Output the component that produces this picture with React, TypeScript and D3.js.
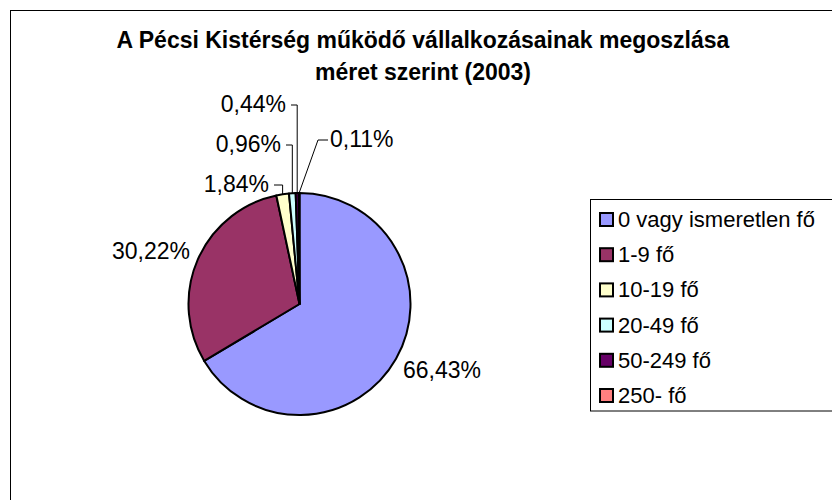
import React, { useEffect, useRef } from 'react';
import * as d3 from 'd3';

const title = ['A Pécsi Kistérség működő vállalkozásainak megoszlása', 'méret szerint (2003)'];
const categories = ['0 vagy ismeretlen fő', '1-9 fő', '10-19 fő', '20-49 fő', '50-249 fő', '250- fő'];
const shares = [66.43, 30.22, 1.84, 0.96, 0.44, 0.11];
const colors = ['#9999FF', '#993366', '#FFFFCC', '#CCFFFF', '#660066', '#FF8080'];

// where each percentage label sits (text anchor point) and whether it has a leader
const labelLayout = [
  { x: 403, y: 378, anchor: 'start', leader: false },
  { x: 112, y: 259, anchor: 'start', leader: false },
  { x: 269, y: 192, anchor: 'end', leader: true },
  { x: 281, y: 152, anchor: 'end', leader: true },
  { x: 286, y: 112, anchor: 'end', leader: true },
  { x: 330, y: 147, anchor: 'start', leader: true },
];

const W = 832;
const H = 500;
const cx = 299.5;
const cy = 304;
const R = 111;

const fmt = (v: number) => v.toFixed(2).replace('.', ',') + '%';

export default function App() {
  const ref = useRef<SVGSVGElement>(null);

  useEffect(() => {
    const svg = d3.select(ref.current);
    svg.selectAll('*').remove();
    const font = 'Arial, "Liberation Sans", sans-serif';

    svg.append('rect').attr('width', W).attr('height', H).attr('fill', '#fff');
    svg.append('rect')
      .attr('x', 10.5).attr('y', 10.5)
      .attr('width', W).attr('height', H)
      .attr('fill', 'none').attr('stroke', '#000').attr('stroke-width', 1);

    svg.append('g').selectAll('text')
      .data(title)
      .enter()
      .append('text')
      .attr('x', 423)
      .attr('y', (d, i) => 48 + i * 32)
      .attr('text-anchor', 'middle')
      .attr('font-family', font)
      .attr('font-weight', 'bold')
      .attr('font-size', 23)
      .text(d => d);

    const pie = d3.pie<number>().sort(null).value(d => d);
    const arcs = pie(shares);
    const arc = d3.arc<d3.PieArcDatum<number>>().innerRadius(0).outerRadius(R);

    const g = svg.append('g').attr('transform', `translate(${cx},${cy})`);
    g.selectAll('path')
      .data(arcs)
      .enter()
      .append('path')
      .attr('d', arc)
      .attr('fill', (d, i) => colors[i])
      .attr('stroke', '#000')
      .attr('stroke-width', 2)
      .attr('stroke-linejoin', 'round');

    // leaders for the thin slices
    arcs.forEach((a, i) => {
      const L = labelLayout[i];
      if (!L.leader) return;
      const mid = (a.startAngle + a.endAngle) / 2;
      const px = cx + Math.sin(mid) * R;
      const py = cy - Math.cos(mid) * R;
      const ly = L.y - 7;
      let pts: [number, number][];
      if (L.anchor === 'end') {
        pts = [[L.x + 5, ly], [px, ly], [px, py]];
      } else {
        pts = [[L.x - 2, ly], [L.x - 12, ly], [px, py]];
      }
      svg.append('path')
        .attr('d', d3.line()(pts))
        .attr('fill', 'none')
        .attr('stroke', '#000')
        .attr('stroke-width', 1);
    });

    svg.append('g').selectAll('text')
      .data(shares)
      .enter()
      .append('text')
      .attr('x', (d, i) => labelLayout[i].x)
      .attr('y', (d, i) => labelLayout[i].y)
      .attr('text-anchor', (d, i) => labelLayout[i].anchor)
      .attr('font-family', font)
      .attr('font-size', 23)
      .text(d => fmt(d));

    // legend
    const lx = 590.5;
    const ly = 199.5;
    svg.append('rect')
      .attr('x', lx).attr('y', ly)
      .attr('width', 300).attr('height', 411 - ly)
      .attr('fill', '#fff').attr('stroke', '#000').attr('stroke-width', 1);

    const rowY = d3.scalePoint<string>().domain(categories).range([219, 395]);
    const items = svg.append('g').selectAll('g')
      .data(categories)
      .enter()
      .append('g')
      .attr('transform', d => `translate(0,${rowY(d)})`);
    items.append('rect')
      .attr('x', 600).attr('y', -6)
      .attr('width', 13).attr('height', 13)
      .attr('fill', (d, i) => colors[i])
      .attr('stroke', '#000').attr('stroke-width', 2);
    items.append('text')
      .attr('x', 618).attr('y', 8)
      .attr('font-family', font)
      .attr('font-size', 22)
      .text(d => d);
  }, []);

  return (
    <svg ref={ref} width={W} height={H}
      style={{ position: 'absolute', left: 0, top: 0, display: 'block' }} />
  );
}
